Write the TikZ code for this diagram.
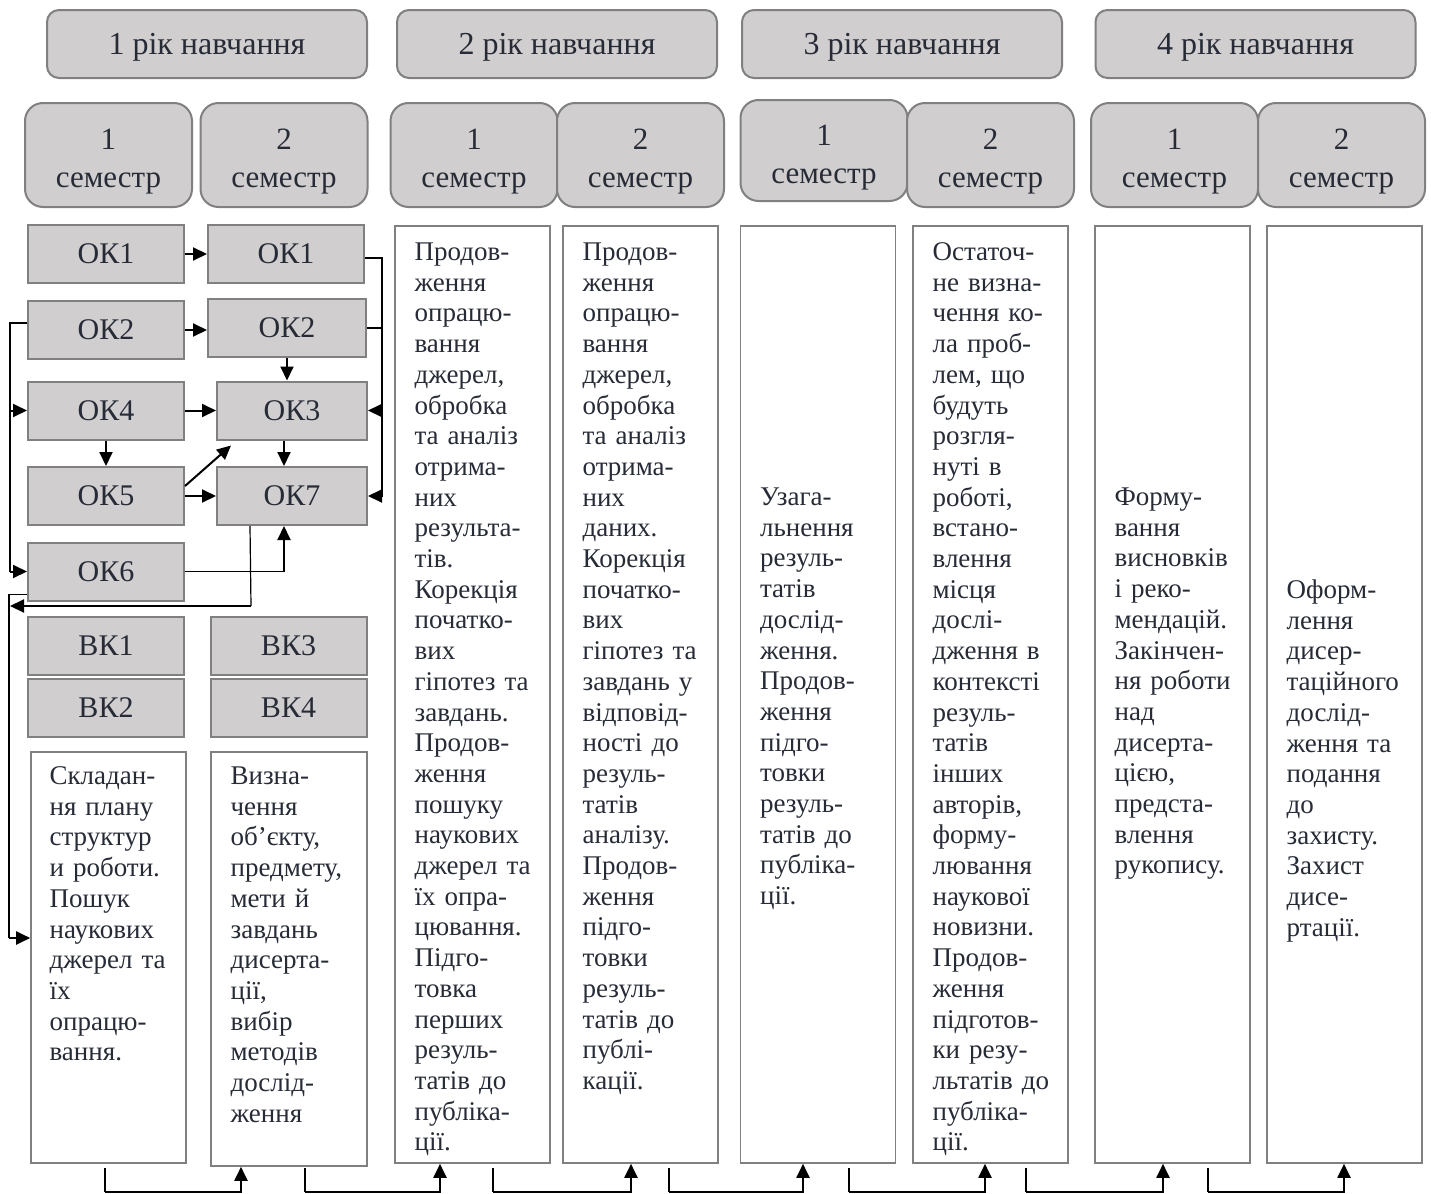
\documentclass[tikz,border=0pt]{standalone}
\usepackage{fontspec}
\setmainfont{Liberation Serif}
\usetikzlibrary{arrows.meta, positioning, calc}
\definecolor{cellgray}{RGB}{208,206,207}
\definecolor{edgegray}{RGB}{128,128,128}
\definecolor{ink}{RGB}{38,43,54}

\begin{document}
\begin{tikzpicture}[
  x=0.5pt, y=-0.5pt,
  year/.style={draw=edgegray, line width=1pt, fill=cellgray, rounded corners=6pt, minimum width=160pt, minimum height=34pt, text depth=0pt, text=ink, font=\fontsize{16}{18}\selectfont},
  sem/.style={draw=edgegray, line width=1pt, fill=cellgray, rounded corners=9pt, minimum width=83.5pt, minimum height=52pt, text width=70pt, align=center, text=ink, font=\fontsize{15.5}{19}\selectfont, execute at begin node={\rule{0pt}{17pt}}},
  cell/.style={draw=edgegray, line width=1pt, fill=cellgray, minimum width=78pt, minimum height=29pt, text=ink, font=\fontsize{15}{17}\selectfont},
  col/.style={draw=edgegray, line width=0.8pt, minimum width=77.5pt, minimum height=468.5pt},
  txt/.style={inner sep=0pt, text width=72pt, align=left, text=ink, font=\fontsize{13.5}{15.35}\selectfont, execute at begin node=\strut},
  wire/.style={line width=0.6pt},
  arr/.style={line width=1pt, -{Triangle[length=7pt, width=6.5pt]}},
]
\useasboundingbox (0,0) rectangle (1431,1194);

% years
\node[year] (Y1) at (207,44)    {1 рік навчання};
\node[year] (Y2) at (557,44)    {2 рік навчання};
\node[year] (Y3) at (902,44)    {3 рік навчання};
\node[year] (Y4) at (1255.5,44) {4 рік навчання};

% semesters
\node[sem] (S11) at (108.5,155)  {1\\семестр};
\node[sem] (S12) at (284,155)    {2\\семестр};
\node[sem] (S21) at (474,155)    {1\\семестр};
\node[sem] (S22) at (640.5,155)  {2\\семестр};
\node[sem, minimum height=50.5pt] (S31) at (824,150.5) {1\\семестр};
\node[sem] (S32) at (990.5,155)  {2\\семестр};
\node[sem] (S41) at (1174.5,155) {1\\семестр};
\node[sem] (S42) at (1341.5,155) {2\\семестр};

% first year courses
\node[cell] (OK1a) at (106,254)   {ОК1};
\node[cell] (OK1b) at (286,254)   {ОК1};
\node[cell] (OK2a) at (106,330)   {ОК2};
\node[cell, minimum width=79pt] (OK2b) at (287,328) {ОК2};
\node[cell] (OK4)  at (106,410.5) {ОК4};
\node[cell, minimum width=75pt] (OK3) at (292,410.5) {ОК3};
\node[cell] (OK5)  at (106,496)   {ОК5};
\node[cell, minimum width=75pt] (OK7) at (292,496)   {ОК7};
\node[cell] (OK6)  at (106,571.5) {ОК6};
\node[cell] (VK1)  at (106,646)   {ВК1};
\node[cell] (VK2)  at (106,708)   {ВК2};
\node[cell] (VK3)  at (288.5,646) {ВК3};
\node[cell] (VK4)  at (288.5,708) {ВК4};

% columns
\node[col, minimum height=205.5pt] (T1) at (108.5,957.5) {};
\node[col, minimum width=78pt, minimum height=207pt] (T2) at (289,959) {};
\node[col] (T3) at (472.5,694.5)  {};
\node[col] (T4) at (640.5,694.5)  {};
\node[col] (T5) at (818,694.5)    {};
\node[col] (T6) at (990.5,694.5)  {};
\node[col] (T7) at (1172.5,694.5) {};
\node[col] (T8) at (1344.5,694.5) {};

\node[txt, below right=5.75pt and 9.5pt of T1.north west] (T1t) {Складан-\\ня плану\\структур\\и роботи.\\Пошук\\наукових\\джерел та\\їх\\опрацю-\\вання.};
\node[txt, below right=5.75pt and 10pt of T2.north west] (T2t) {Визна-\\чення\\об’єкту,\\предмету,\\мети й\\завдань\\дисерта-\\ції,\\вибір\\методів\\дослід-\\ження};
\node[txt, below right=6.75pt and 10pt of T3.north west] (T3t) {Продов-\\ження\\опрацю-\\вання\\джерел,\\обробка\\та аналіз\\отрима-\\них\\результа-\\тів.\\Корекція\\початко-\\вих\\гіпотез та\\завдань.\\Продов-\\ження\\пошуку\\наукових\\джерел та\\їх опра-\\цювання.\\Підго-\\товка\\перших\\резуль-\\татів до\\публіка-\\ції.};
\node[txt, below right=6.75pt and 10pt of T4.north west] (T4t) {Продов-\\ження\\опрацю-\\вання\\джерел,\\обробка\\та аналіз\\отрима-\\них\\даних.\\Корекція\\початко-\\вих\\гіпотез та\\завдань у\\відповід-\\ності до\\резуль-\\татів\\аналізу.\\Продов-\\ження\\підго-\\товки\\резуль-\\татів до\\публі-\\кації.};
\node[txt, below right=129.25pt and 10pt of T5.north west] (T5t) {Узага-\\льнення\\резуль-\\татів\\дослід-\\ження.\\Продов-\\ження\\підго-\\товки\\резуль-\\татів до\\публіка-\\ції.};
\node[txt, below right=6.75pt and 10pt of T6.north west] (T6t) {Остаточ-\\не визна-\\чення ко-\\ла проб-\\лем, що\\будуть\\розгля-\\нуті в\\роботі,\\встано-\\влення\\місця\\дослі-\\дження в\\контексті\\резуль-\\татів\\інших\\авторів,\\форму-\\лювання\\наукової\\новизни.\\Продов-\\ження\\підготов-\\ки резу-\\льтатів до\\публіка-\\ції.};
\node[txt, below right=129.25pt and 10pt of T7.north west] (T7t) {Форму-\\вання\\висновків\\і реко-\\мендацій.\\Закінчен-\\ня роботи\\над\\дисерта-\\цією,\\предста-\\влення\\рукопису.};
\node[txt, below right=175.75pt and 10pt of T8.north west] (T8t) {Оформ-\\лення\\дисер-\\таційного\\дослід-\\ження та\\подання\\до\\захисту.\\Захист\\дисе-\\ртації.};

% links between courses
\draw[arr] (OK1a) -- (OK1b);
\draw[arr] (OK2a.east) -- (OK2a.east -| OK2b.west);
\draw[arr] (OK4) -- (OK3);
\draw[arr] (OK5) -- (OK7);
\draw[arr] (OK4) -- (OK5);
\draw[arr] (OK2b.south) -- (OK2b.south |- OK3.north);
\draw[arr] ([xshift=-4pt]OK3.south) -- ([xshift=-4pt]OK7.north);
\draw[arr] ([yshift=5pt]OK5.east) -- ([xshift=7.5pt,yshift=-2.5pt]OK3.south west);

% right bus
\coordinate (R) at (382,258);
\draw[wire] ([yshift=-2pt]OK1b.east) -- (R) -- (R |- OK7.east);
\draw[wire] (OK2b.east) -- (OK2b.east -| R);
\draw[arr] (R |- OK3.east) -- (OK3.east);
\draw[arr] (R |- OK7.east) -- (OK7.east);

% left bus
\coordinate (L) at (10,323);
\draw[wire] (OK2a.west |- L) -- (L) -- (L |- OK6.west);
\draw[arr] (L |- OK4.west) -- (OK4.west);
\draw[arr] (L |- OK6.west) -- (OK6.west);

\coordinate (K) at ([xshift=-4pt]OK7.south);
\draw[wire] (OK6.east) -- (OK6.east -| K);
\draw[arr] (OK6.east -| K) -- (K);

\coordinate (M) at (251,606);
\draw[wire] ([xshift=17pt]OK7.south west) -- (M);
\draw[arr] (M) -- (M -| L);

\coordinate (N) at (9,938);
\draw[wire] ([yshift=3.5pt]OK6.south west) -| (N);
\draw[arr] (N) -- (N -| T1.west);

% semester to semester
\foreach \a/\b/\sx/\ax in {T1/T2/105/241, T2/T3/305/440, T3/T4/493/631, T4/T5/669/803, T5/T6/849/985, T6/T7/1026/1163, T7/T8/1208/1344}{
  \coordinate (o\a) at (\sx,1168);
  \coordinate (i\b) at (\ax,1192);
  \draw[wire] (o\a) -- (o\a |- i\b);
  \draw[arr] (o\a |- i\b) -| (i\b |- \b.south);
}
\end{tikzpicture}
\end{document}
